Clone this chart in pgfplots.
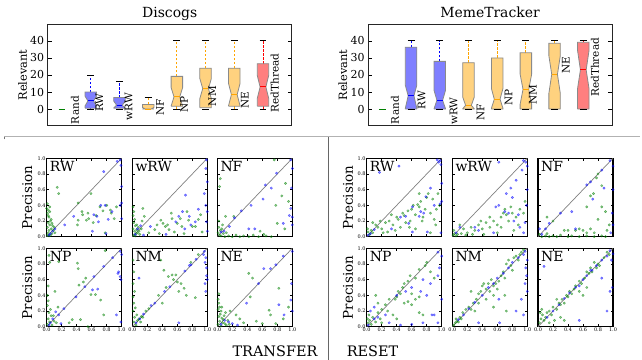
\documentclass[border=0pt]{standalone}
\usepackage{pgfplots}
\pgfplotsset{compat=1.18}
\usepackage{fontspec}
\setmainfont{DejaVu Serif}
\definecolor{ggreen}{rgb}{0,0.5,0}
\definecolor{bfill}{HTML}{7F7FFF}
\definecolor{ofill}{HTML}{FFD27F}
\definecolor{rfill}{HTML}{FF7F7F}
\definecolor{oline}{HTML}{FFA500}
\definecolor{bedge}{HTML}{8A8A8A}
\tikzset{
  lab/.style={rotate=90, font=\fontsize{10.5}{12}\selectfont, inner sep=0pt},
  pl/.style={anchor=north west, inner sep=0pt, font=\fontsize{14}{16}\selectfont},
}
\pgfplotsset{
  bxax/.style={scale only axis, width=244bp, height=100.6bp, anchor=south west,
    xmin=0.5, xmax=9, ymin=-9.5, ymax=49.5, xtick=\empty, ytick={0,10,20,30,40},
    tick align=inside, major tick length=4bp, tick style={black, line width=0.6bp},
    axis line style={black!85, line width=1bp},
    ticklabel style={font=\fontsize{11}{13}\selectfont},
    /pgf/number format/assume math mode=true,
    title style={font=\fontsize{14}{16}\selectfont, at={(axis description cs:0.5,1)}, anchor=base, yshift=1.5bp},
    ylabel={Relevant},
    ylabel style={font=\fontsize{11.5}{13}\selectfont, at={(axis description cs:-0.103,0.5)}, anchor=center},
    clip=false},
  boxb/.style={draw=bedge, fill=bfill, line width=0.8bp},
  boxo/.style={draw=bedge, fill=ofill, line width=0.8bp},
  boxr/.style={draw=bedge, fill=rfill, line width=0.8bp},
  wb/.style={blue, line width=0.8bp, dash pattern=on 2.5bp off 1.5bp},
  wo/.style={oline, line width=0.8bp, dash pattern=on 2.5bp off 1.5bp},
  wr/.style={red, line width=0.8bp, dash pattern=on 2.5bp off 1.5bp},
  cap/.style={black, line width=0.9bp},
  sc/.style={scale only axis, width=75bp, height=78.4bp, anchor=south west,
    xmin=0, xmax=1, ymin=0, ymax=1,
    xtick={0,0.2,0.4,0.6,0.8,1}, ytick={0,0.2,0.4,0.6,0.8,1},
    xticklabels={}, yticklabels={},
    tick align=inside, major tick length=2.5bp, tick style={black, line width=0.5bp},
    axis line style={black, line width=1.2bp},
    ticklabel style={font=\fontsize{5}{6}\selectfont, inner sep=1bp},
    ylabel style={font=\fontsize{13.5}{15}\selectfont, at={(axis description cs:-0.26,0.5)}, anchor=center}},
  bl/.style={xticklabels={0.0,0.2,0.4,0.6,0.8,1.0}},
  lc/.style={yticklabels={0.0,0.2,0.4,0.6,0.8,1.0}, ylabel={Precision}},
  gp/.style={only marks, mark=*, mark size=1.25bp, mark options={draw=ggreen, fill=ggreen, fill opacity=0.45, draw opacity=0.55, line width=0.3bp}},
  bp/.style={only marks, mark=*, mark size=1.25bp, mark options={draw=blue, fill=blue, fill opacity=0.45, draw opacity=0.55, line width=0.3bp}},
  dg/.style={gray, line width=0.7bp},
}
\begin{document}
\begin{tikzpicture}
\useasboundingbox (0,0) rectangle (642bp,360bp);
% ---------------- Discogs ----------------
\begin{axis}[bxax, at={(47.7bp,234.7bp)}, title={Discogs}]
\addplot[ggreen, line width=1bp] coordinates {(0.88,0) (1.12,0)};
% RW
\addplot[wb] coordinates {(2,10) (2,20)};
\addplot[wb] coordinates {(2,0.5) (2,0)};
\addplot[boxb] coordinates {(1.8,0.5) (2.2,0.5) (2.2,1.8) (2.1,4.8) (2.2,7.6) (2.2,10) (1.8,10) (1.8,7.6) (1.9,4.8) (1.8,1.8) (1.8,0.5)};
\addplot[blue, line width=1bp] coordinates {(1.9,4.8) (2.1,4.8)};
\addplot[cap] coordinates {(1.88,20) (2.12,20)};
\addplot[cap] coordinates {(1.88,0) (2.12,0)};
% wRW
\addplot[wb] coordinates {(3,6.8) (3,16)};
\addplot[boxb] coordinates {(2.8,0.5) (3.2,0.5) (3.2,0.6) (3.1,2.3) (3.2,4.7) (3.2,6.8) (2.8,6.8) (2.8,4.7) (2.9,2.3) (2.8,0.6) (2.8,0.5)};
\addplot[blue, line width=1bp] coordinates {(2.9,2.3) (3.1,2.3)};
\addplot[cap] coordinates {(2.88,16) (3.12,16)};
\addplot[cap] coordinates {(2.88,0) (3.12,0)};
% NF
\addplot[wo] coordinates {(4,2.7) (4,7)};
\addplot[boxo] coordinates {(3.8,0) (4.2,0) (4.1,0) (4.2,1) (4.2,2.7) (3.8,2.7) (3.8,1) (3.9,0) (3.8,0)};
\addplot[oline, line width=1bp] coordinates {(3.9,0) (4.1,0)};
\addplot[cap] coordinates {(3.88,7) (4.12,7)};
% NP
\addplot[wo] coordinates {(5,19.2) (5,40)};
\addplot[wo] coordinates {(5,1.7) (5,0)};
\addplot[boxo] coordinates {(4.8,1.7) (5.2,1.7) (5.2,1.8) (5.1,7.2) (5.2,12.6) (5.2,19.2) (4.8,19.2) (4.8,12.6) (4.9,7.2) (4.8,1.8) (4.8,1.7)};
\addplot[oline, line width=1bp] coordinates {(4.9,7.2) (5.1,7.2)};
\addplot[cap] coordinates {(4.88,40) (5.12,40)};
\addplot[cap] coordinates {(4.88,0) (5.12,0)};
% NM
\addplot[wo] coordinates {(6,24) (6,40)};
\addplot[boxo] coordinates {(5.8,0.8) (6.2,0.8) (6.2,6.2) (6.1,12) (6.2,17.9) (6.2,24) (5.8,24) (5.8,17.9) (5.9,12) (5.8,6.2) (5.8,0.8)};
\addplot[oline, line width=1bp] coordinates {(5.9,12) (6.1,12)};
\addplot[cap] coordinates {(5.88,40) (6.12,40)};
\addplot[cap] coordinates {(5.88,0) (6.12,0)};
% NE
\addplot[wo] coordinates {(7,24) (7,40)};
\addplot[wo] coordinates {(7,1.7) (7,0)};
\addplot[boxo] coordinates {(6.8,1.7) (7.2,1.7) (7.2,2) (7.1,8.5) (7.2,15) (7.2,24) (6.8,24) (6.8,15) (6.9,8.5) (6.8,2) (6.8,1.7)};
\addplot[oline, line width=1bp] coordinates {(6.9,8.5) (7.1,8.5)};
\addplot[cap] coordinates {(6.88,40) (7.12,40)};
\addplot[cap] coordinates {(6.88,0) (7.12,0)};
% RedThread
\addplot[wr] coordinates {(8,26.6) (8,40)};
\addplot[wr] coordinates {(8,1.7) (8,0)};
\addplot[boxr] coordinates {(7.8,1.7) (8.2,1.7) (8.2,6.2) (8.1,13) (8.2,19.8) (8.2,26.6) (7.8,26.6) (7.8,19.8) (7.9,13) (7.8,6.2) (7.8,1.7)};
\addplot[red, line width=1bp] coordinates {(7.9,13) (8.1,13)};
\addplot[cap] coordinates {(7.88,40) (8.12,40)};
\addplot[cap] coordinates {(7.88,0) (8.12,0)};
\node[lab] at (axis cs:1.45,-0.6) {Rand};
\node[lab] at (axis cs:2.30,3.8) {RW};
\node[lab] at (axis cs:3.32,1.5) {wRW};
\node[lab] at (axis cs:4.42,0.9) {NF};
\node[lab] at (axis cs:5.25,2.9) {NP};
\node[lab] at (axis cs:6.24,7.6) {NM};
\node[lab] at (axis cs:7.37,5.2) {NE};
\node[lab] at (axis cs:8.41,15.4) {RedThread};
\end{axis}
% ---------------- MemeTracker ----------------
\begin{axis}[bxax, at={(368bp,234.7bp)}, title={MemeTracker}]
\addplot[ggreen, line width=1bp] coordinates {(0.88,0) (1.12,0)};
% RW
\addplot[wb] coordinates {(2,36.3) (2,40)};
\addplot[boxb] coordinates {(1.8,0) (2.2,0) (2.2,0.5) (2.1,7.8) (2.2,14) (2.2,36.3) (1.8,36.3) (1.8,14) (1.9,7.8) (1.8,0.5) (1.8,0)};
\addplot[blue, line width=1bp] coordinates {(1.9,7.8) (2.1,7.8)};
\addplot[cap] coordinates {(1.88,40) (2.12,40)};
\addplot[cap] coordinates {(1.88,0) (2.12,0)};
% wRW
\addplot[wb] coordinates {(3,28) (3,40)};
\addplot[boxb] coordinates {(2.8,0) (3.2,0) (3.2,0.2) (3.1,5.2) (3.2,11) (3.2,28) (2.8,28) (2.8,11) (2.9,5.2) (2.8,0.2) (2.8,0)};
\addplot[blue, line width=1bp] coordinates {(2.9,5.2) (3.1,5.2)};
\addplot[cap] coordinates {(2.88,40) (3.12,40)};
\addplot[cap] coordinates {(2.88,0) (3.12,0)};
% NF
\addplot[wo] coordinates {(4,27.2) (4,40)};
\addplot[boxo] coordinates {(3.8,0) (4.2,0) (4.2,0.2) (4.1,2.2) (4.2,7) (4.2,27.2) (3.8,27.2) (3.8,7) (3.9,2.2) (3.8,0.2) (3.8,0)};
\addplot[oline, line width=1bp] coordinates {(3.9,2.2) (4.1,2.2)};
\addplot[cap] coordinates {(3.88,40) (4.12,40)};
\addplot[cap] coordinates {(3.88,0) (4.12,0)};
% NP
\addplot[wo] coordinates {(5,30) (5,40)};
\addplot[boxo] coordinates {(4.8,0) (5.2,0) (5.2,0.5) (5.1,5.8) (5.2,12) (5.2,30) (4.8,30) (4.8,12) (4.9,5.8) (4.8,0.5) (4.8,0)};
\addplot[oline, line width=1bp] coordinates {(4.9,5.8) (5.1,5.8)};
\addplot[cap] coordinates {(4.88,40) (5.12,40)};
\addplot[cap] coordinates {(4.88,0) (5.12,0)};
% NM
\addplot[wo] coordinates {(6,33) (6,40)};
\addplot[boxo] coordinates {(5.8,0) (6.2,0) (6.2,2.9) (6.1,11.6) (6.2,20.4) (6.2,33) (5.8,33) (5.8,20.4) (5.9,11.6) (5.8,2.9) (5.8,0)};
\addplot[oline, line width=1bp] coordinates {(5.9,11.6) (6.1,11.6)};
\addplot[cap] coordinates {(5.88,40) (6.12,40)};
\addplot[cap] coordinates {(5.88,0) (6.12,0)};
% NE
\addplot[wo] coordinates {(7,38.6) (7,40)};
\addplot[boxo] coordinates {(6.8,0) (7.2,0) (7.2,9.1) (7.1,20.4) (7.2,31.4) (7.2,38.6) (6.8,38.6) (6.8,31.4) (6.9,20.4) (6.8,9.1) (6.8,0)};
\addplot[oline, line width=1bp] coordinates {(6.9,20.4) (7.1,20.4)};
\addplot[cap] coordinates {(6.88,40) (7.12,40)};
\addplot[cap] coordinates {(6.88,0) (7.12,0)};
% RedThread
\addplot[wr] coordinates {(8,39.2) (8,40)};
\addplot[boxr] coordinates {(7.8,0) (8.2,0) (8.2,12) (8.1,23) (8.2,34.4) (8.2,39.2) (7.8,39.2) (7.8,34.4) (7.9,23) (7.8,12) (7.8,0)};
\addplot[red, line width=1bp] coordinates {(7.9,23) (8.1,23)};
\addplot[cap] coordinates {(7.88,40) (8.12,40)};
\addplot[cap] coordinates {(7.88,0) (8.12,0)};
\node[lab] at (axis cs:1.44,-0.6) {Rand};
\node[lab] at (axis cs:2.37,5.2) {RW};
\node[lab] at (axis cs:3.48,-1.2) {wRW};
\node[lab] at (axis cs:4.42,-1.7) {NF};
\node[lab] at (axis cs:5.40,7) {NP};
\node[lab] at (axis cs:6.24,8.7) {NM};
\node[lab] at (axis cs:7.39,25.6) {NE};
\node[lab] at (axis cs:8.41,24.5) {RedThread};
\end{axis}
% ---------------- separators ----------------
\draw[gray!60, line width=0.8bp] (4bp,223.3bp) -- (640bp,223.3bp);
\draw[black!55, line width=0.8bp] (4bp,220.5bp) -- (4bp,223.3bp);
\draw[black!60, line width=1.3bp] (328.3bp,0bp) -- (328.3bp,223.3bp);
\node[font=\fontsize{14.5}{16}\selectfont] at (275bp,8.5bp) {TRANSFER};
\node[font=\fontsize{14.5}{16}\selectfont] at (372.5bp,8.5bp) {RESET};
% ================= TRANSFER =================
% RW
\begin{axis}[sc, lc, at={(46.7bp,123.3bp)}]
\addplot[dg] coordinates {(0,0) (1,1)};
\addplot[gp] coordinates {(0.01,0.02) (0.02,0.05) (0.03,0.08) (0.01,0.12) (0.04,0.15) (0.02,0.18) (0.05,0.20) (0.03,0.25) (0.01,0.30) (0.02,0.34) (0.04,0.38) (0.01,0.42) (0.06,0.10) (0.07,0.04) (0.08,0.14) (0.05,0.02) (0.09,0.08) (0.03,0.01) (0.06,0.22) (0.10,0.12) (0.02,0.27) (0.07,0.17) (0.11,0.05) (0.00,0.36) (0.04,0.32) (0.14,0.63) (0.16,0.55) (0.59,0.55) (0.42,0.43) (0.47,0.32) (0.42,0.21) (0.41,0.15) (0.53,0.21) (0.56,0.23) (0.48,0.28) (0.66,0.27) (0.71,0.38) (0.75,0.33) (0.80,0.40) (0.86,0.30) (0.90,0.23) (0.93,0.38) (0.78,0.05) (0.55,0.30) (0.62,0.18) (0.85,0.34)};
\addplot[bp] coordinates {(0.94,0.96) (0.98,0.98) (0.99,0.91) (0.76,0.83) (1.0,0.64) (1.0,0.43) (0.98,0.40) (1.0,0.23) (0.72,0.40) (0.78,0.40) (0.36,0.26) (0.63,0.28) (0.67,0.26) (0.69,0.19) (0.61,0.07) (0.79,0.04) (0.24,0.15) (0.05,0.04) (0.08,0.07) (0.03,0.02) (0.11,0.10) (0.82,0.22) (0.87,0.32)};
\node[pl] at (rel axis cs:0.04,0.97) {RW};
\end{axis}
% wRW
\begin{axis}[sc, at={(132.3bp,123.3bp)}]
\addplot[dg] coordinates {(0,0) (1,1)};
\addplot[gp] coordinates {(0.01,0.38) (0.02,0.32) (0.01,0.27) (0.03,0.22) (0.02,0.18) (0.04,0.14) (0.01,0.10) (0.03,0.07) (0.05,0.04) (0.02,0.02) (0.06,0.09) (0.07,0.05) (0.08,0.12) (0.10,0.03) (0.04,0.01) (0.09,0.07) (0.12,0.10) (0.06,0.15) (0.14,0.36) (0.16,0.26) (0.13,0.20) (0.22,0.05) (0.30,0.09) (0.33,0.15) (0.38,0.21) (0.41,0.17) (0.44,0.13) (0.47,0.15) (0.49,0.09) (0.53,0.23) (0.56,0.06) (0.60,0.17) (0.64,0.23) (0.66,0.13) (0.69,0.04) (0.73,0.32) (0.75,0.21) (0.80,0.13) (0.84,0.13) (0.88,0.22) (0.91,0.28) (0.93,0.06) (0.52,0.30) (0.36,0.04)};
\addplot[bp] coordinates {(0.99,0.98) (0.98,0.87) (1.0,0.70) (0.96,0.55) (0.98,0.40) (1.0,0.32) (0.99,0.19) (1.0,0.07) (0.71,0.53) (0.67,0.32) (0.62,0.26) (0.76,0.26) (0.58,0.19) (0.78,0.15) (0.84,0.19) (0.24,0.13) (0.11,0.14) (0.07,0.10) (0.04,0.03) (0.15,0.02) (0.45,0.03) (0.88,0.35) (0.70,0.10)};
\node[pl] at (rel axis cs:0.04,0.97) {wRW};
\end{axis}
% NF
\begin{axis}[sc, at={(217.3bp,123.3bp)}]
\addplot[dg] coordinates {(0,0) (1,1)};
\addplot[gp] coordinates {(0.76,0.98) (0.91,0.68) (0.04,0.74) (0.03,0.64) (0.11,0.26) (0.22,0.26) (0.57,0.07) (0.62,0.03) (0.80,0.17) (0.78,0.40) (0.86,0.52) (0.02,0.12) (0.04,0.08) (0.06,0.10) (0.01,0.05) (0.03,0.02) (0.08,0.04) (0.05,0.01) (0.10,0.00) (0.15,0.01) (0.20,0.00) (0.25,0.02) (0.30,0.00) (0.35,0.01) (0.42,0.00) (0.48,0.02) (0.55,0.00) (0.65,0.01) (0.72,0.00) (0.12,0.05) (0.07,0.15) (0.02,0.20) (0.90,0.10) (0.95,0.45)};
\addplot[bp] coordinates {(0.98,0.98) (1.0,0.87) (0.99,0.62) (0.98,0.36) (1.0,0.25) (1.0,0.15) (0.79,0.81) (0.72,0.62) (0.64,0.66) (0.61,0.48) (0.45,0.40) (0.32,0.33) (0.23,0.24) (0.16,0.13) (0.09,0.07) (0.05,0.06) (0.50,0.10) (0.88,0.17) (0.96,0.27) (0.42,0.10)};
\node[pl] at (rel axis cs:0.04,0.97) {NF};
\end{axis}
% NP
\begin{axis}[sc, lc, bl, at={(46.7bp,33.3bp)}]
\addplot[dg] coordinates {(0,0) (1,1)};
\addplot[gp] coordinates {(0.16,0.83) (0.41,0.81) (0.42,0.74) (0.52,0.62) (0.49,0.57) (0.43,0.53) (0.59,0.41) (0.65,0.41) (0.72,0.34) (0.76,0.15) (0.34,0.09) (0.45,0.09) (0.78,0.97) (0.03,0.91) (0.04,0.82) (0.01,0.40) (0.02,0.33) (0.01,0.27) (0.05,0.22) (0.03,0.18) (0.06,0.14) (0.02,0.10) (0.04,0.06) (0.01,0.03) (0.07,0.02) (0.10,0.07) (0.09,0.14) (0.13,0.05) (0.15,0.25) (0.11,0.45) (0.02,0.52) (0.30,0.05) (0.55,0.00)};
\addplot[bp] coordinates {(0.98,0.96) (0.96,0.70) (0.95,0.68) (0.98,0.64) (0.99,0.60) (0.93,0.15) (0.99,0.06) (0.76,0.77) (0.63,0.64) (0.51,0.51) (0.61,0.47) (0.68,0.48) (0.23,0.23) (0.12,0.19) (0.16,0.15) (0.19,0.04) (0.05,0.05) (0.08,0.10) (0.39,0.38) (0.88,0.88) (0.03,0.02) (1.0,0.92)};
\node[pl] at (rel axis cs:0.04,0.97) {NP};
\end{axis}
% NM
\begin{axis}[sc, bl, at={(132.3bp,33.3bp)}]
\addplot[dg] coordinates {(0,0) (1,1)};
\addplot[gp] coordinates {(0.42,0.72) (0.48,0.64) (0.53,0.66) (0.58,0.66) (0.60,0.57) (0.69,0.49) (0.84,0.37) (0.38,0.85) (0.55,0.60) (0.65,0.55) (0.72,0.40) (0.78,0.82) (0.88,0.92) (0.62,0.45) (0.01,0.85) (0.02,0.70) (0.01,0.55) (0.03,0.45) (0.01,0.38) (0.02,0.30) (0.04,0.24) (0.01,0.20) (0.03,0.12) (0.02,0.06) (0.05,0.02) (0.07,0.08) (0.09,0.10) (0.12,0.13) (0.14,0.12) (0.18,0.20) (0.22,0.23) (0.11,0.06) (0.06,0.15) (0.35,0.40) (0.45,0.50) (0.40,0.30)};
\addplot[bp] coordinates {(0.96,0.96) (0.78,0.79) (0.76,0.78) (0.50,0.51) (0.43,0.45) (0.09,0.62) (0.62,0.05) (0.98,0.88) (0.97,0.82) (0.99,0.75) (1.0,0.60) (0.98,0.45) (0.99,0.65) (0.97,0.55) (0.05,0.05) (0.10,0.10) (0.15,0.16) (0.25,0.27) (0.70,0.71) (0.85,0.86) (0.30,0.30) (0.95,0.92)};
\node[pl] at (rel axis cs:0.04,0.97) {NM};
\end{axis}
% NE
\begin{axis}[sc, bl, at={(217.3bp,33.3bp)}]
\addplot[dg] coordinates {(0,0) (1,1)};
\addplot[gp] coordinates {(0.42,0.68) (0.47,0.62) (0.44,0.38) (0.82,0.49) (0.69,0.21) (0.71,0.15) (0.60,0.04) (0.52,0.07) (0.78,0.04) (0.88,0.10) (0.95,0.25) (0.01,0.35) (0.02,0.30) (0.03,0.25) (0.01,0.22) (0.05,0.20) (0.04,0.16) (0.02,0.13) (0.06,0.11) (0.08,0.09) (0.03,0.07) (0.07,0.05) (0.10,0.04) (0.01,0.03) (0.05,0.01) (0.12,0.02) (0.14,0.08) (0.09,0.14) (0.11,0.18) (0.06,0.25) (0.17,0.20) (0.16,0.03) (0.30,0.10) (0.35,0.05) (0.02,0.42) (0.25,0.15)};
\addplot[bp] coordinates {(1.0,0.96) (0.98,0.34) (1.0,0.20) (0.89,0.15) (0.78,0.79) (0.71,0.74) (0.62,0.74) (0.39,0.30) (0.20,0.04) (0.27,0.02) (0.82,0.28) (0.99,0.55) (0.88,0.90) (0.55,0.55) (0.10,0.08) (0.05,0.03) (0.15,0.06)};
\node[pl] at (rel axis cs:0.04,0.97) {NE};
\end{axis}
% ================= RESET =================
% RW
\begin{axis}[sc, lc, at={(366.7bp,123.3bp)}, ylabel style={at={(axis description cs:-0.25,0.5)}}]
\addplot[dg] coordinates {(0,0) (1,1)};
\addplot[gp] coordinates {(0.02,0.06) (0.04,0.03) (0.06,0.08) (0.01,0.10) (0.08,0.05) (0.08,0.18) (0.12,0.15) (0.15,0.12) (0.20,0.10) (0.25,0.18) (0.30,0.20) (0.35,0.15) (0.40,0.25) (0.42,0.22) (0.45,0.12) (0.48,0.30) (0.50,0.27) (0.55,0.33) (0.58,0.20) (0.60,0.35) (0.62,0.40) (0.65,0.28) (0.68,0.41) (0.70,0.38) (0.72,0.45) (0.75,0.25) (0.78,0.35) (0.80,0.50) (0.82,0.55) (0.85,0.30) (0.88,0.48) (0.90,0.22) (0.93,0.35) (0.95,0.55) (0.97,0.40) (0.70,0.55) (0.52,0.18) (0.38,0.08) (0.28,0.06) (0.65,0.10) (0.85,0.05) (0.18,0.20) (0.22,0.05) (0.33,0.28) (0.57,0.12) (0.74,0.20) (0.92,0.15)};
\addplot[bp] coordinates {(0.17,0.82) (0.43,0.90) (0.94,0.98) (0.96,0.95) (0.99,0.92) (0.98,0.97) (1.0,0.68) (1.0,0.45) (0.98,0.42) (0.79,0.51) (0.72,0.32) (0.76,0.30) (0.70,0.26) (0.61,0.38) (0.52,0.26) (0.56,0.17) (0.61,0.06) (0.81,0.06) (0.99,0.05) (0.33,0.10) (0.10,0.09) (0.05,0.04) (0.02,0.02) (0.85,0.62) (0.90,0.40) (0.45,0.25)};
\node[pl] at (rel axis cs:0.04,0.97) {RW};
\end{axis}
% wRW
\begin{axis}[sc, at={(452.3bp,123.3bp)}]
\addplot[dg] coordinates {(0,0) (1,1)};
\addplot[gp] coordinates {(0.01,0.02) (0.03,0.04) (0.05,0.01) (0.02,0.08) (0.07,0.03) (0.10,0.15) (0.15,0.10) (0.20,0.05) (0.25,0.12) (0.30,0.08) (0.35,0.15) (0.40,0.10) (0.45,0.18) (0.50,0.12) (0.55,0.20) (0.60,0.15) (0.65,0.25) (0.68,0.30) (0.70,0.35) (0.72,0.28) (0.75,0.20) (0.78,0.38) (0.80,0.30) (0.85,0.25) (0.90,0.35) (0.95,0.30) (0.97,0.45) (0.60,0.05) (0.42,0.03) (0.82,0.08) (0.50,0.25) (0.12,0.04) (0.18,0.02) (0.27,0.03) (0.38,0.20) (0.65,0.12) (0.88,0.15)};
\addplot[bp] coordinates {(0.62,0.95) (0.95,0.97) (0.98,0.95) (1.0,0.90) (0.93,0.85) (0.85,0.72) (0.78,0.62) (0.72,0.55) (0.80,0.50) (0.62,0.40) (0.58,0.38) (0.70,0.32) (0.75,0.30) (0.88,0.28) (0.82,0.20) (0.90,0.12) (0.95,0.05) (0.30,0.12) (0.35,0.08) (0.55,0.05) (0.10,0.12) (0.05,0.05) (1.0,0.60) (0.99,0.40) (0.97,0.18)};
\node[pl] at (rel axis cs:0.04,0.97) {wRW};
\end{axis}
% NF
\begin{axis}[sc, at={(538bp,123.3bp)}]
\addplot[dg] coordinates {(0,0) (1,1)};
\addplot[gp] coordinates {(0.78,0.75) (0.85,0.65) (0.70,0.52) (0.65,0.38) (0.85,0.38) (0.90,0.32) (0.80,0.22) (0.95,0.15) (0.92,0.08) (0.12,0.25) (0.20,0.20) (0.35,0.08) (0.40,0.08) (0.50,0.08) (0.55,0.10) (0.60,0.08) (0.65,0.05) (0.70,0.10) (0.75,0.05) (0.05,0.00) (0.10,0.01) (0.15,0.00) (0.20,0.01) (0.25,0.00) (0.30,0.02) (0.40,0.00) (0.45,0.01) (0.55,0.00) (0.65,0.01) (0.75,0.00) (0.85,0.01) (0.90,0.00) (0.02,0.03) (0.12,0.04) (0.80,0.80) (0.74,0.55)};
\addplot[bp] coordinates {(0.96,0.97) (0.85,0.85) (0.70,0.70) (0.65,0.66) (0.15,0.17) (0.10,0.10) (1.0,0.90) (1.0,0.60) (0.99,0.30) (1.0,0.15) (0.97,0.05) (0.73,0.48) (0.88,0.62) (0.45,0.32) (0.50,0.10) (0.02,0.10) (0.05,0.03) (0.30,0.30)};
\node[pl] at (rel axis cs:0.04,0.97) {NF};
\end{axis}
% NP
\begin{axis}[sc, lc, bl, at={(366.7bp,33.3bp)}, ylabel style={at={(axis description cs:-0.25,0.5)}}]
\addplot[dg] coordinates {(0,0) (1,1)};
\addplot[gp] coordinates {(0.80,0.82) (0.78,0.78) (0.70,0.73) (0.65,0.62) (0.58,0.65) (0.55,0.58) (0.50,0.55) (0.48,0.50) (0.45,0.42) (0.42,0.45) (0.40,0.38) (0.38,0.35) (0.30,0.35) (0.25,0.28) (0.20,0.22) (0.15,0.18) (0.12,0.40) (0.15,0.30) (0.70,0.38) (0.65,0.35) (0.55,0.32) (0.60,0.28) (0.70,0.18) (0.75,0.15) (0.40,0.10) (0.35,0.15) (0.20,0.05) (0.85,0.70) (0.90,0.62) (0.60,0.42) (0.02,0.05) (0.04,0.08) (0.06,0.03) (0.08,0.12) (0.03,0.15) (0.01,0.10) (0.12,0.06) (0.18,0.10) (0.28,0.20) (0.50,0.30)};
\addplot[bp] coordinates {(0.95,0.95) (1.0,0.90) (0.97,0.75) (0.95,0.65) (0.85,0.55) (0.75,0.60) (0.72,0.45) (0.80,0.40) (0.60,0.50) (0.52,0.45) (0.90,0.15) (0.87,0.15) (0.95,0.05) (0.75,0.05) (0.60,0.03) (0.45,0.02) (0.10,0.25) (0.05,0.20) (0.10,0.10) (0.25,0.15) (0.30,0.05) (0.40,0.40) (0.02,0.02) (0.15,0.12) (1.0,0.35)};
\node[pl] at (rel axis cs:0.04,0.97) {NP};
\end{axis}
% NM
\begin{axis}[sc, bl, at={(452.3bp,33.3bp)}]
\addplot[dg] coordinates {(0,0) (1,1)};
\addplot[gp] coordinates {(0.02,0.02) (0.04,0.05) (0.06,0.07) (0.08,0.06) (0.10,0.12) (0.12,0.10) (0.05,0.10) (0.14,0.18) (0.18,0.22) (0.22,0.25) (0.25,0.22) (0.28,0.30) (0.32,0.35) (0.35,0.42) (0.38,0.45) (0.40,0.52) (0.42,0.55) (0.45,0.48) (0.48,0.55) (0.50,0.45) (0.52,0.60) (0.55,0.52) (0.58,0.55) (0.60,0.48) (0.62,0.58) (0.65,0.65) (0.68,0.70) (0.70,0.62) (0.72,0.80) (0.75,0.85) (0.78,0.78) (0.80,0.72) (0.82,0.88) (0.85,0.90) (0.88,0.85) (0.90,0.92) (0.92,0.95) (0.95,0.98) (0.30,0.20) (0.35,0.30) (0.45,0.35) (0.55,0.40) (0.70,0.40) (0.72,0.20) (0.55,0.25) (0.25,0.45)};
\addplot[bp] coordinates {(0.97,0.96) (0.95,0.92) (1.0,0.85) (0.98,0.75) (0.99,0.65) (0.97,0.55) (1.0,0.45) (0.92,0.35) (0.95,0.15) (0.85,0.20) (0.75,0.75) (0.68,0.68) (0.60,0.62) (0.55,0.55) (0.48,0.50) (0.40,0.40) (0.30,0.31) (0.22,0.23) (0.15,0.15) (0.08,0.09) (0.62,0.35) (0.63,0.05) (0.35,0.05) (0.80,0.82) (0.88,0.88)};
\node[pl] at (rel axis cs:0.04,0.97) {NM};
\end{axis}
% NE
\begin{axis}[sc, bl, at={(538bp,33.3bp)}]
\addplot[dg] coordinates {(0,0) (1,1)};
\addplot[gp] coordinates {(0.02,0.05) (0.04,0.10) (0.06,0.15) (0.08,0.08) (0.10,0.12) (0.03,0.18) (0.05,0.22) (0.12,0.18) (0.15,0.20) (0.18,0.15) (0.20,0.25) (0.25,0.22) (0.28,0.30) (0.30,0.28) (0.32,0.35) (0.35,0.30) (0.38,0.40) (0.40,0.38) (0.42,0.45) (0.45,0.42) (0.48,0.48) (0.50,0.52) (0.55,0.58) (0.58,0.55) (0.62,0.62) (0.65,0.70) (0.68,0.68) (0.70,0.75) (0.72,0.70) (0.75,0.82) (0.78,0.75) (0.80,0.80) (0.82,0.78) (0.88,0.88) (0.92,0.95) (0.95,0.92) (0.15,0.05) (0.22,0.08) (0.30,0.12) (0.35,0.08) (0.25,0.35) (0.60,0.40) (0.55,0.45) (0.65,0.50)};
\addplot[bp] coordinates {(0.96,0.97) (1.0,0.93) (0.98,0.85) (0.92,0.90) (0.85,0.62) (0.78,0.78) (0.72,0.72) (0.65,0.65) (0.60,0.60) (0.55,0.52) (0.50,0.50) (0.42,0.43) (0.35,0.36) (0.28,0.28) (0.20,0.20) (0.12,0.12) (0.08,0.77) (0.92,0.20) (0.55,0.08) (0.99,0.50) (0.96,0.45) (0.70,0.72) (0.85,0.85)};
\node[pl] at (rel axis cs:0.04,0.97) {NE};
\end{axis}
\end{tikzpicture}
\end{document}
